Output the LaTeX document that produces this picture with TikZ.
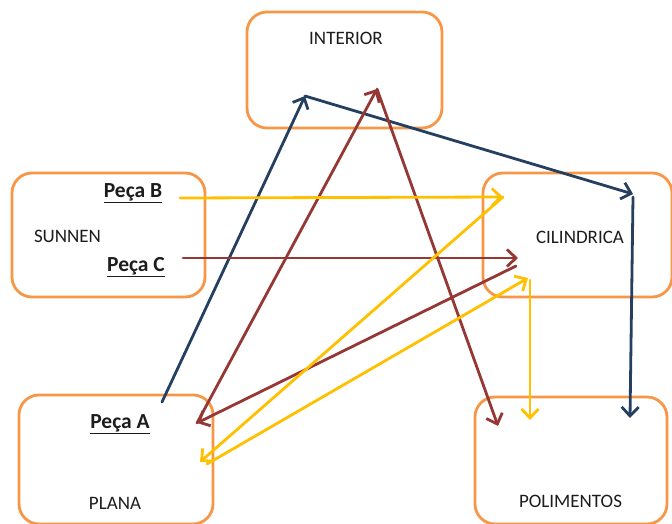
\documentclass[tikz,border=0pt]{standalone}
\usepackage{fontspec}
\setmainfont{Carlito}
\usetikzlibrary{arrows.meta}
\definecolor{boxorange}{HTML}{F79646}
\definecolor{navy}{HTML}{243F60}
\definecolor{brick}{HTML}{953735}
\definecolor{amber}{HTML}{FFC000}
\definecolor{ink}{HTML}{1C1C1C}

\begin{document}
\begin{tikzpicture}[x=1pt,y=-1pt,
  stagebox/.style={draw=boxorange, line width=2.8pt, rounded corners=20pt, inner sep=0pt},
  caption/.style={text=ink, inner sep=0pt, font=\fontsize{19}{22}\selectfont},
  piece/.style={text=ink, inner sep=0pt, font=\fontsize{21.5}{24}\selectfont\bfseries},
  flow/.style={line width=2.8pt, line cap=round, -{Straight Barb[length=9pt,width=17pt]}},
]
\useasboundingbox (0,0) rectangle (672,524);

% process stages
\node[stagebox, minimum width=195pt, minimum height=116pt] (interior)   at (344.5,70) {};
\node[stagebox, minimum width=193pt, minimum height=124pt] (sunnen)     at (108.5,235) {};
\node[stagebox, minimum width=189pt, minimum height=124pt] (cilindrica) at (577.5,235) {};
\node[stagebox, minimum width=194pt, minimum height=129pt] (plana)      at (116,459.5) {};
\node[stagebox, minimum width=192pt, minimum height=127pt] (polimentos) at (571,460.5) {};

% stage names
\node[caption] (tInterior)   at (346,38)  {INTERIOR};
\node[caption] (tSunnen)     at (67.5,236) {SUNNEN};
\node[caption] (tCilindrica) at (580,237) {CILINDRICA};
\node[caption] (tPlana)      at (115,503) {PLANA};
\node[caption] (tPolimentos) at (570.5,501) {POLIMENTOS};

% workpieces
\node[piece] (pecaB) at (133,193) {\underline{Peça B}};
\node[piece] (pecaC) at (136,267) {\underline{Peça C}};
\node[piece] (pecaA) at (120,424) {\underline{Peça A}};

% arrow end points inside the stages
\coordinate (aStart)  at (162,402);
\coordinate (intBlue) at (305,96);
\coordinate (cilBlue) at (633,194);
\coordinate (cilBlueDown) at (633,197);
\coordinate (polBlue) at (630,418);

\coordinate (cStart)  at (183,258);
\coordinate (cilRed)  at (518,258);
\coordinate (plaRed)  at (197,423);
\coordinate (intRed)  at (377,89);
\coordinate (polRed)  at (498,426);
\coordinate (cilRedOut) at (516,266);

\coordinate (bStart)  at (180,198);
\coordinate (cilYel)  at (503,197);
\coordinate (plaYel)  at (200,462);
\coordinate (plaYelOut) at (207,464);
\coordinate (cilYelLow) at (528,278);
\coordinate (cilYelDown) at (530,280);
\coordinate (polYel)  at (530,420);

% blue route
\draw[flow, navy] (aStart) -- (intBlue);
\draw[flow, navy] (intBlue) -- (cilBlue);
\draw[flow, navy] (cilBlueDown) -- (polBlue);

% red route
\draw[flow, brick] (cStart) -- (cilRed);
\draw[flow, brick] (plaRed) -- (intRed);
\draw[flow, brick] (intRed) -- (polRed);
\draw[flow, brick] (cilRedOut) -- (plaRed);

% yellow route
\draw[flow, amber] (bStart) -- (cilYel);
\draw[flow, amber] (cilYel) -- (plaYel);
\draw[flow, amber] (plaYelOut) -- (cilYelLow);
\draw[flow, amber] (cilYelDown) -- (polYel);
\end{tikzpicture}
\end{document}
